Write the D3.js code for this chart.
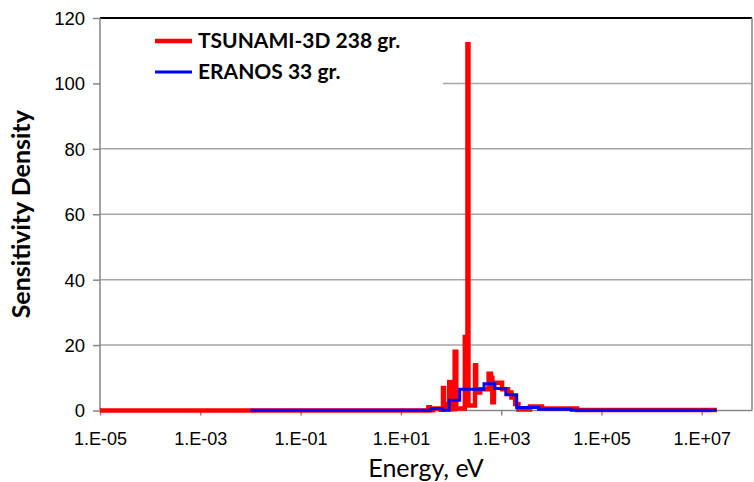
<!DOCTYPE html>
<html>
<head>
<meta charset="utf-8">
<script src="https://cdn.jsdelivr.net/npm/d3@7"></script>
<style>
  body { margin: 0; background: #fff; }
  svg { display: block; font-family: Lato, "Open Sans", sans-serif; }
</style>
</head>
<body>
<div id="chart"></div>
<script>
// TSUNAMI-3D 238 gr. : group boundaries (eV) and sensitivity density per group
var redEdges = [1e-5, 35.3, 37.5, 44, 62, 69, 72.5, 80, 92, 98, 118, 127, 188, 212, 222, 300, 316,
  380, 560, 625, 665, 715, 1040, 1370, 1600, 1900, 2200, 3750, 6500, 32500, 2e7];
var redValues = [0, 1.0, 0.1, 0.6, 0.2, 6.9, 2.0, 0.8, 8.7, 0.4, 18, 0.6, 22.5, 112, 1.5, 13.8,
  5.5, 6.5, 11.2, 10, 2.5, 8.5, 6.5, 5.5, 4, 2, 0.3, 1.2, 0.6, 0.15];

// ERANOS 33 gr.
var blueEdges = [1e-2, 40.17, 67.9, 91.66, 148.6, 454, 748.5, 1234, 2035, 5531, 24790, 1.964e7];
var blueValues = [0.05, 0.6, 0.1, 3.1, 6.5, 8.2, 6.7, 4.8, 0.9, 0.4, 0.05];

var xTicks = [1e-5, 1e-3, 1e-1, 1e1, 1e3, 1e5, 1e7];
var yTicks = [0, 20, 40, 60, 80, 100, 120];
var seriesNames = ["TSUNAMI-3D 238 gr.", "ERANOS 33 gr."];

var width = 754, height = 482;
var margin = {top: 18, right: 2, bottom: 71.5, left: 100};

var svg = d3.select("#chart").append("svg")
  .attr("width", width)
  .attr("height", height);

var x = d3.scaleLog().domain([1e-5, 1e8]).range([margin.left, width - margin.right]);
var y = d3.scaleLinear().domain([0, 120]).range([height - margin.bottom, margin.top]);

// gridlines
svg.append("g")
  .selectAll("line")
  .data(yTicks.filter(function (d) { return d > 0 && d < 120; }))
  .enter()
  .append("line")
  .attr("x1", x.range()[0])
  .attr("x2", x.range()[1])
  .attr("y1", function (d) { return y(d); })
  .attr("y2", function (d) { return y(d); })
  .attr("stroke", "#a6a6a6")
  .attr("stroke-width", 1.5);

// top and right border
svg.append("line")
  .attr("x1", x.range()[0]).attr("x2", x.range()[1])
  .attr("y1", y(120)).attr("y2", y(120))
  .attr("stroke", "#000").attr("stroke-width", 1.8);
svg.append("line")
  .attr("x1", x.range()[1]).attr("x2", x.range()[1])
  .attr("y1", y(120)).attr("y2", y(0))
  .attr("stroke", "#868686").attr("stroke-width", 1.5);

// axes
var xAxis = d3.axisBottom(x)
  .tickValues(xTicks)
  .tickSize(5)
  .tickFormat(function (d) {
    var p = Math.round(Math.log10(d));
    return "1.E" + (p < 0 ? "-" : "+") + String(Math.abs(p)).padStart(2, "0");
  });
var yAxis = d3.axisLeft(y).tickValues(yTicks).tickSize(7).tickFormat(d3.format("d"));

var gx = svg.append("g")
  .attr("transform", "translate(0," + y(0) + ")")
  .call(xAxis);
var gy = svg.append("g")
  .attr("transform", "translate(" + x.range()[0] + ",0)")
  .call(yAxis);

[gx, gy].forEach(function (g) {
  g.select(".domain").attr("stroke", "#868686").attr("stroke-width", 1.5);
  g.selectAll(".tick line").attr("stroke", "#868686").attr("stroke-width", 1.5);
  g.selectAll(".tick text").attr("fill", "#000").style("font-size", "18px");
});
gx.selectAll(".tick text").attr("dy", "1.45em");
gy.selectAll(".tick text").attr("dx", "-5").attr("dy", "0.35em").style("font-size", "18.5px");
gx.select(".domain").attr("d", "M" + x.range()[0] + ",0H" + x.range()[1]);
gy.select(".domain").attr("d", "M0," + y(0) + "V" + y(120));

// step lines
function stepPoints(edges, values) {
  var pts = values.map(function (v, i) { return [edges[i], v]; });
  pts.push([edges[edges.length - 1], values[values.length - 1]]);
  return pts;
}
var line = d3.line()
  .x(function (d) { return x(d[0]); })
  .y(function (d) { return y(d[1]); })
  .curve(d3.curveStepAfter);

// legend box (white, covers the gridline)
svg.append("rect")
  .attr("x", x.range()[0] + 1)
  .attr("y", y(120) + 2)
  .attr("width", 342)
  .attr("height", 78)
  .attr("fill", "#fff");

svg.append("path")
  .datum(stepPoints(redEdges, redValues))
  .attr("d", line)
  .attr("fill", "none")
  .attr("stroke", "#ff0000")
  .attr("stroke-width", 4.5);

svg.append("path")
  .datum(stepPoints(blueEdges, blueValues))
  .attr("d", line)
  .attr("fill", "none")
  .attr("stroke", "#0000ff")
  .attr("stroke-width", 3);

// legend
var legend = svg.append("g");
var legendColors = ["#ff0000", "#0000ff"];
var legendWidths = [4.5, 3];
seriesNames.forEach(function (name, i) {
  var ly = 41 + i * 31;
  legend.append("line")
    .attr("x1", 155).attr("x2", 192)
    .attr("y1", ly).attr("y2", ly)
    .attr("stroke", legendColors[i])
    .attr("stroke-width", legendWidths[i]);
  legend.append("text")
    .attr("x", 198).attr("y", ly)
    .attr("dy", "0.35em")
    .style("font-size", "21px")
    .style("font-weight", "bold")
    .text(name);
});

// axis titles
svg.append("text")
  .attr("x", (x.range()[0] + x.range()[1]) / 2)
  .attr("y", 477)
  .attr("text-anchor", "middle")
  .style("font-size", "25px")
  .text("Energy, eV");

svg.append("text")
  .attr("transform", "translate(30," + (y(60)) + ") rotate(-90)")
  .attr("text-anchor", "middle")
  .style("font-size", "25px")
  .style("font-weight", "bold")
  .text("Sensitivity Density");
</script>
</body>
</html>
